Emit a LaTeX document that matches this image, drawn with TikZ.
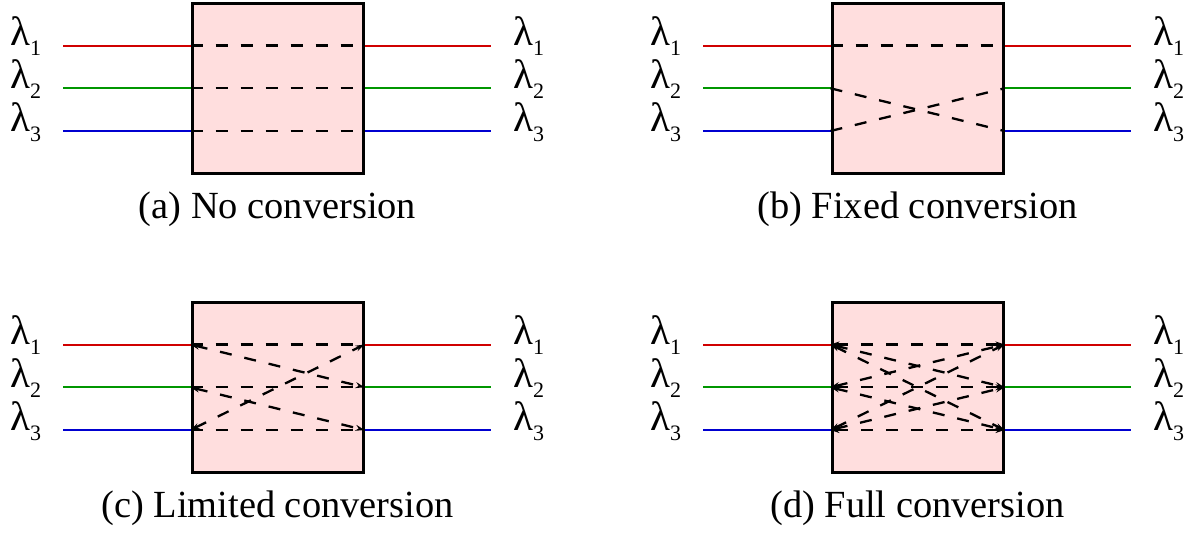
\documentclass[tikz,border=0pt]{standalone}
\usepackage{fontspec}
\setmainfont{Liberation Serif}
\newfontfamily\timesfont{Liberation Serif}
\usetikzlibrary{arrows.meta}
\definecolor{boxfill}{RGB}{255,222,222}
\definecolor{lred}{RGB}{208,0,0}
\definecolor{lgreen}{RGB}{0,150,0}
\definecolor{lblue}{RGB}{0,0,208}
\tikzset{
  convbox/.style={draw=black, fill=boxfill, line width=3pt, minimum width=171pt, minimum height=170pt, inner sep=0pt},
  wl/.style={line width=2pt},
  conn/.style={line width=2.3pt, dash pattern=on 12pt off 13pt},
  tips/.style={arrows={Stealth[length=9pt,width=6pt]-Stealth[length=9pt,width=6pt]}},
  lab/.style={font=\timesfont\fontsize{41}{41}\selectfont, inner sep=0pt, anchor=base west},
  captext/.style={font=\timesfont\fontsize{38.4}{40}\selectfont, inner sep=0pt, anchor=base}
}
\newcommand\lam[1]{λ\raisebox{-10pt}{\fontsize{22}{22}\selectfont #1}}
\newcommand\wpanel[4]{%
  \begin{scope}[shift={(#2,#3)}]
    \node[convbox] (#1box) at (277.5,88) {};
    \foreach \i/\y/\c in {1/45.5/lred,2/88.3/lgreen,3/131/lblue}{
      \coordinate (#1in\i) at (63,\y);
      \coordinate (#1out\i) at (491,\y);
      \node[lab] (#1la\i) at (10,\y) {\lam{\i}};
      \node[lab] (#1lb\i) at (513,\y) {\lam{\i}};
      \draw[wl,\c] (#1in\i) -- (#1box.west |- #1in\i);
      \draw[wl,\c] (#1box.east |- #1out\i) -- (#1out\i);
    }
    \node[captext] (#1cap) at (277.5,218) {#4};
  \end{scope}}
\begin{document}
\begin{tikzpicture}[x=1pt,y=-1pt]
  \useasboundingbox (0,0) rectangle (1198,538);
  \wpanel{a}{0}{0}{(a) No conversion}
  \wpanel{b}{640}{0}{(b) Fixed conversion}
  \wpanel{c}{0}{299}{(c) Limited conversion}
  \wpanel{d}{640}{299}{(d) Full conversion}
  % (a)
  \foreach \i in {1,2,3}
    \draw[conn] (abox.west |- ain\i) -- (abox.east |- aout\i);
  % (b)
  \draw[conn] (bbox.west |- bin1) -- (bbox.east |- bout1);
  \draw[conn] (bbox.west |- bin2) -- (bbox.east |- bout3);
  \draw[conn] (bbox.west |- bin3) -- (bbox.east |- bout2);
  % (c)
  \foreach \i in {1,2,3}
    \draw[conn] (cbox.west |- cin\i) -- (cbox.east |- cout\i);
  \draw[conn,tips] (cbox.west |- cin1) -- (cbox.east |- cout2);
  \draw[conn,tips] (cbox.west |- cin2) -- (cbox.east |- cout3);
  \draw[conn,tips] (cbox.west |- cin3) -- (cbox.east |- cout1);
  % (d)
  \foreach \i in {1,2,3}
    \foreach \j in {1,2,3}
      \draw[conn,tips] (dbox.west |- din\i) -- (dbox.east |- dout\j);
\end{tikzpicture}
\end{document}
